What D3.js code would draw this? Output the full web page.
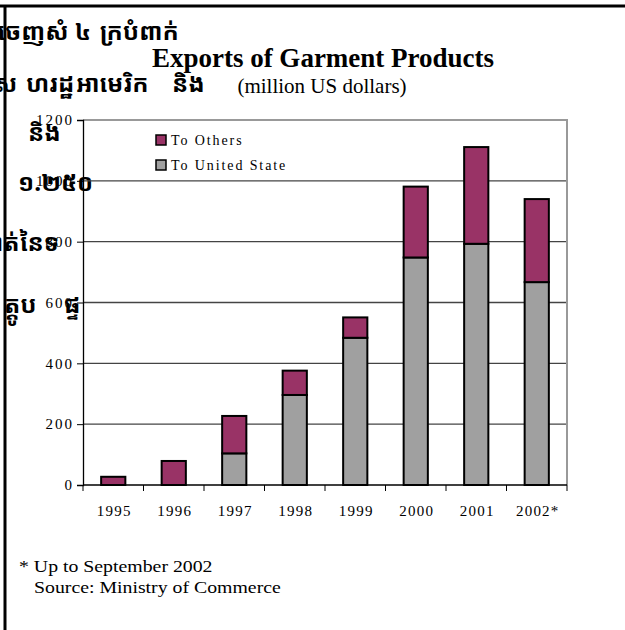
<!DOCTYPE html>
<html>
<head>
<meta charset="utf-8">
<script src="https://cdn.jsdelivr.net/npm/d3@7"></script>
<style>
  body { margin: 0; background: #fff; }
  svg { display: block; }
  text { font-family: "Liberation Serif", "Times New Roman", serif; }
  .km { font-family: "Khmer OS", "Noto Sans Khmer", "Noto Serif Khmer", "Liberation Serif", serif; font-weight: bold; }
</style>
</head>
<body>
<div id="chart"></div>
<script>
// data (million US dollars)
var years = ["1995", "1996", "1997", "1998", "1999", "2000", "2001", "2002*"];
var toUS = [0, 0, 104, 296, 484, 748, 793, 667];
var toOthers = [27, 79, 123, 80, 67, 233, 318, 273];
var yTicks = [0, 200, 400, 600, 800, 1000, 1200];
var seriesNames = ["To Others", "To United State"];
var seriesColors = ["#993366", "#a0a0a0"];
var notes = ["* Up to September 2002", "Source: Ministry of Commerce"];

// stray khmer text from the scanned page behind the chart
var khmerBits = [
  {t: "នាំចេញសំ ៤", x: -26, y: 40},
  {t: "ក្របំពាក់", x: 100, y: 40},
  {t: "ស", x: -6, y: 92},
  {t: "ហរដ្ឋ", x: 26, y: 92},
  {t: "អាមេរិក", x: 76, y: 92},
  {t: "និង", x: 172, y: 92},
  {t: "និង", x: 28, y: 141},
  {t: "១.២៥០", x: 18, y: 191},
  {t: "កាត់នៃទ", x: -20, y: 251},
  {t: "ត្តូប", x: 4, y: 313},
  {t: "ផ្ទ", x: 64, y: 313}
];

var W = 625, H = 630;
var margin = {top: 120, right: 58, bottom: 145, left: 83},
    width = W - margin.left - margin.right,
    height = H - margin.top - margin.bottom;

var svg = d3.select("#chart")
  .append("svg")
  .attr("width", W)
  .attr("height", H);

svg.selectAll("text.km")
  .data(khmerBits)
  .enter()
  .append("text")
  .attr("class", "km")
  .attr("x", function(d) { return d.x; })
  .attr("y", function(d) { return d.y; })
  .style("font-size", "24px")
  .text(function(d) { return d.t; });

// page frame (top and left rules)
svg.append("line").attr("x1", 0).attr("x2", W).attr("y1", 6).attr("y2", 6)
  .style("stroke", "#000").style("stroke-width", 3);
svg.append("line").attr("x1", 5).attr("x2", 5).attr("y1", 5).attr("y2", H)
  .style("stroke", "#000").style("stroke-width", 3);

// titles
svg.append("text")
  .attr("x", 323).attr("y", 67)
  .attr("text-anchor", "middle")
  .style("font-size", "27px").style("font-weight", "bold")
  .text("Exports of Garment Products");
svg.append("text")
  .attr("x", 322).attr("y", 93)
  .attr("text-anchor", "middle")
  .style("font-size", "21px")
  .text("(million US dollars)");

var g = svg.append("g")
  .attr("transform", "translate(" + margin.left + "," + margin.top + ")");

var x = d3.scaleBand().domain(years).range([0, width]).paddingInner(0.6).paddingOuter(0.3);
var xb = d3.scaleBand().domain(years).range([0, width]);
var y = d3.scaleLinear().domain([0, 1200]).range([height, 0]);

// gridlines
g.selectAll("line.grid")
  .data(yTicks.slice(1, -1))
  .enter()
  .append("line")
  .attr("x1", 0).attr("x2", width)
  .attr("y1", function(d) { return y(d); })
  .attr("y2", function(d) { return y(d); })
  .style("stroke", "#444").style("stroke-width", 1.3);

// plot border top/right
g.append("path")
  .attr("d", "M0," + y(1200) + "H" + width + "V" + height)
  .style("fill", "none").style("stroke", "#999").style("stroke-width", 2);

// stacked bars
var stacked = years.map(function(yr, i) {
  return {year: yr, us: toUS[i], oth: toOthers[i]};
});
var stack = d3.stack().keys(["us", "oth"])(stacked);

g.selectAll("g.layer")
  .data(stack)
  .enter()
  .append("g")
  .attr("class", "layer")
  .style("fill", function(d, i) { return seriesColors[1 - i]; })
  .selectAll("rect")
  .data(function(d) { return d.filter(function(v) { return v[1] - v[0] > 0; }); })
  .enter()
  .append("rect")
  .attr("x", function(d) { return x(d.data.year); })
  .attr("width", x.bandwidth())
  .attr("y", function(d) { return y(d[1]); })
  .attr("height", function(d) { return y(d[0]) - y(d[1]); })
  .style("stroke", "#000").style("stroke-width", 2);

// y axis
var yAxis = g.append("g")
  .call(d3.axisLeft(y).tickValues(yTicks).tickSize(6).tickPadding(3).tickFormat(d3.format("d")));
yAxis.select(".domain").style("stroke", "#000").style("stroke-width", 1.3);
yAxis.selectAll(".tick line").style("stroke", "#000");
yAxis.selectAll("text")
  .style("font-family", "'Liberation Serif', serif")
  .style("font-size", "15px").style("letter-spacing", "2px").style("fill", "#000");

// x axis with ticks at category boundaries
var xAxis = g.append("g").attr("transform", "translate(0," + height + ")");
xAxis.append("line").attr("x1", 0).attr("x2", width)
  .style("stroke", "#000").style("stroke-width", 1.3);
xAxis.selectAll("line.tk")
  .data(years.concat(["end"]))
  .enter()
  .append("line")
  .attr("x1", function(d, i) { return i < years.length ? xb(d) : width; })
  .attr("x2", function(d, i) { return i < years.length ? xb(d) : width; })
  .attr("y1", 0).attr("y2", 6)
  .style("stroke", "#000");
xAxis.selectAll("text")
  .data(years)
  .enter()
  .append("text")
  .attr("x", function(d) { return x(d) + x.bandwidth() / 2 + 1; })
  .attr("y", 31)
  .attr("text-anchor", "middle")
  .style("font-size", "15px")
  .style("letter-spacing", "1.2px")
  .text(function(d) { return d; });

// legend
var legend = g.selectAll("g.leg")
  .data(seriesNames)
  .enter()
  .append("g")
  .attr("transform", function(d, i) { return "translate(73," + (15 + i * 25) + ")"; });
legend.append("rect")
  .attr("width", 10).attr("height", 10)
  .style("fill", function(d, i) { return seriesColors[i]; })
  .style("stroke", "#000").style("stroke-width", 1.5);
legend.append("text")
  .attr("x", 15).attr("y", 10)
  .style("font-size", "14px")
  .style("letter-spacing", "1.9px")
  .text(function(d) { return d; });

// notes, stretched a little like the scan
svg.selectAll("text.note")
  .data(notes)
  .enter()
  .append("text")
  .attr("class", "note")
  .attr("transform", function(d, i) { return "translate(" + (i ? 34 : 19) + "," + (572 + i * 21) + ") scale(1.2,1)"; })
  .style("font-size", "16.5px")
  .text(function(d) { return d; });
</script>
</body>
</html>
